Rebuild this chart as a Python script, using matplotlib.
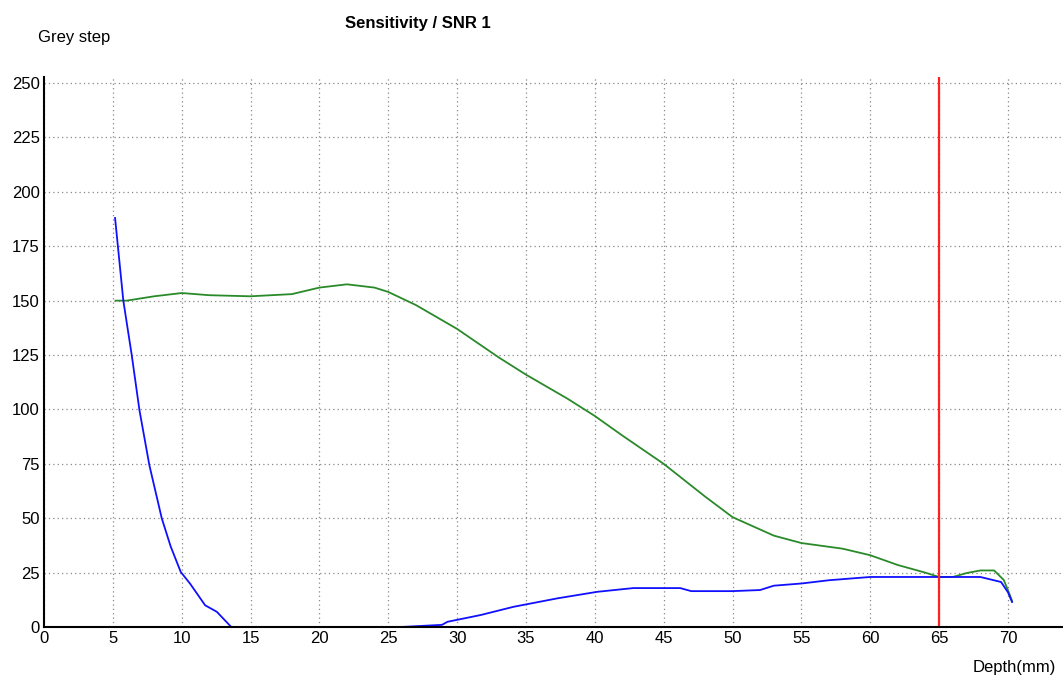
import matplotlib
matplotlib.use("Agg")
import matplotlib.pyplot as plt

plt.rcParams['font.family'] = ['Liberation Sans', 'DejaVu Sans']

# green curve (sensitivity)
green_x = [5.2, 6.0, 7.0, 8.0, 10.0, 12.0, 15.0, 18.0, 20.0, 22.0, 24.0, 25.0, 27.0,
           30.0, 33.0, 35.0, 38.0, 40.0, 42.0, 45.0, 48.0, 50.0, 53.0, 55.0, 58.0,
           60.0, 62.0, 64.0, 65.0, 66.0, 67.0, 68.0, 69.0, 69.7, 70.0, 70.3]
green_y = [150, 150, 151, 152, 153.5, 152.5, 152, 153, 156, 157.5, 156, 154, 148,
           137, 124, 116, 105, 97, 88, 75, 60, 50.5, 42, 38.6, 36, 33, 28.5, 25,
           23, 23, 24.8, 26, 26, 21.6, 17, 12]

# blue curve (noise)
blue_x = [5.16, 5.76, 6.37, 6.93, 7.65, 8.55, 9.2, 9.93, 10.6, 11.7, 12.55, 13.3, 13.6,
          20.0, 25.9, 28.9, 29.3, 31.7, 34.1, 37.3, 40.2, 42.8, 46.2, 47.0, 50.0,
          52.0, 53.0, 55.0, 57.0, 60.0, 65.0, 68.0, 69.5, 70.0, 70.3]
blue_y = [188, 150, 125, 99.7, 74.4, 50, 37, 25.3, 20, 10, 7, 2, 0,
          0, 0, 1, 2.4, 5.5, 9.3, 13.2, 16.2, 17.9, 17.9, 16.5, 16.5,
          17, 19, 20, 21.5, 23, 23, 23, 20.7, 16, 11.5]

marker_depth = 65

x_ticks = list(range(0, 75, 5))
y_ticks = list(range(0, 275, 25))

fig = plt.figure(figsize=(10.63, 6.87), dpi=100)
ax = fig.add_axes([0.0414, 0.0873, 0.9586, 0.8013])

ax.plot(green_x, green_y, color='#2a8a2a', lw=1.3)
ax.plot(blue_x, blue_y, color='#1010ff', lw=1.3)
ax.axvline(marker_depth, color='#ff2020', lw=1.6)

ax.set_xlim(0, 74)
ax.set_ylim(0, 253)
ax.set_xticks(x_ticks)
ax.set_yticks(y_ticks)
ax.grid(True, color='#888888', linestyle=(0, (1, 2.5)), lw=0.9)
ax.tick_params(length=0, labelsize=12, pad=3)
for s in ['top', 'right']:
    ax.spines[s].set_visible(False)
ax.spines['left'].set_linewidth(1.5)
ax.spines['bottom'].set_linewidth(1.5)

fig.text(0.393, 0.966, 'Sensitivity / SNR 1', fontsize=12, fontweight='bold',
         ha='center', va='center')
fig.text(0.036, 0.946, 'Grey step', fontsize=12, ha='left', va='center')
fig.text(0.993, 0.028, 'Depth(mm)', fontsize=12, ha='right', va='center')

fig.savefig('out.png', dpi=100)
